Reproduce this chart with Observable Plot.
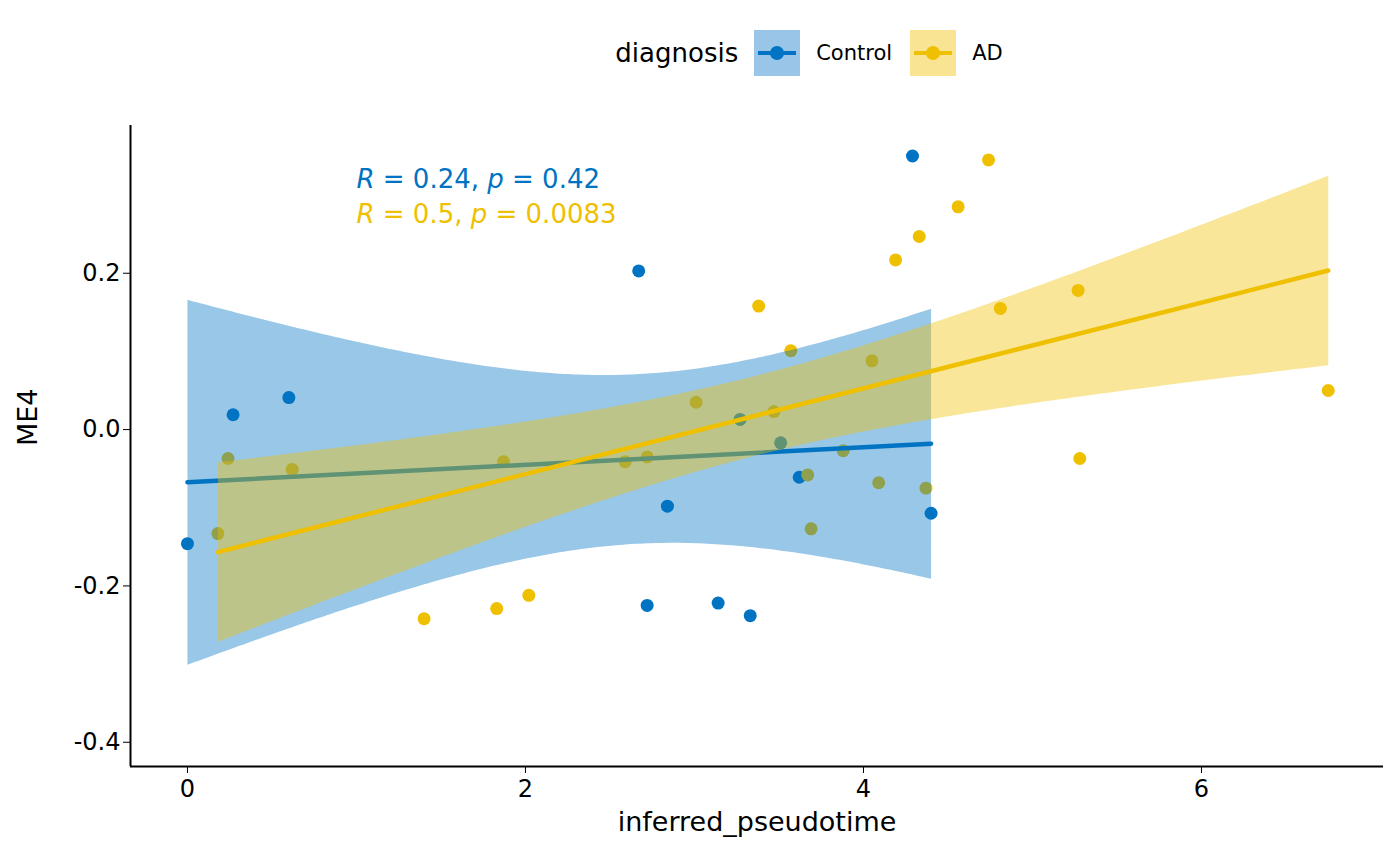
<!DOCTYPE html>
<html><head><meta charset="utf-8">
<script src="https://cdn.jsdelivr.net/npm/d3@7"></script>
<script src="https://cdn.jsdelivr.net/npm/@observablehq/plot@0.6"></script>
<style>
body{margin:0;background:#fff;font-family:"DejaVu Sans",sans-serif}
#wrap{position:relative;width:1400px;height:865px}
#legend{position:absolute;top:30px;left:110px;width:1400px;display:flex;justify-content:center;align-items:center;font-size:26px}
.key{display:inline-block;width:46px;height:46px;position:relative;margin:0 16px 0 16px}
.key .ln{position:absolute;left:4px;right:4px;top:21px;height:4px}
.key .dt{position:absolute;left:16px;top:16px;width:14px;height:14px;border-radius:50%}
.lab{font-size:21px;margin-right:2px}
</style></head><body>
<div id="wrap"><div id="legend">
<span>diagnosis</span>
<span class="key" style="background:#99C5E8"><span class="ln" style="background:#0073C2"></span><span class="dt" style="background:#0073C2"></span></span><span class="lab">Control</span>
<span class="key" style="background:#F8E493"><span class="ln" style="background:#EFC000"></span><span class="dt" style="background:#EFC000"></span></span><span class="lab">AD</span>
</div><div id="chart"></div></div>
<script>
const controlX=[0,2.67,4.29,2.84,2.72,3.14,3.33,3.27,3.51,3.62,4.40,0.27,0.60];
const controlY=[-0.146,0.203,0.350,-0.098,-0.225,-0.222,-0.238,0.013,-0.017,-0.061,-0.107,0.019,0.041];
const adX=[3.38,3.57,4.19,4.33,4.56,4.74,4.81,5.27,5.28,6.75,1.83,2.02,0.18,0.24,0.62,1.40,1.87,2.59,2.72,3.01,3.47,3.67,3.69,3.88,4.05,4.09,4.37];
const adY=[0.158,0.101,0.217,0.247,0.285,0.345,0.155,0.178,-0.037,0.050,-0.229,-0.212,-0.133,-0.037,-0.051,-0.242,-0.041,-0.041,-0.035,0.035,0.023,-0.058,-0.127,-0.027,0.088,-0.068,-0.075];
const groups=["Control","AD"];
const colors=["#0073C2","#EFC000"];
const labels=[{x:1,y:0.32,t:"R = 0.24, p = 0.42",g:"Control"},{x:1,y:0.275,t:"R = 0.5, p = 0.0083",g:"AD"}];
const data=[...controlX.map((x,i)=>({x,y:controlY[i],g:"Control"})),...adX.map((x,i)=>({x,y:adY[i],g:"AD"}))];
const xd=[-0.337,7.077], yd=[-0.431,0.389];
const plot=Plot.plot({
  width:1400,height:865,marginLeft:130,marginRight:17,marginTop:125,marginBottom:99,
  style:{fontFamily:"DejaVu Sans",color:"#000"},
  x:{domain:xd},
  y:{domain:yd},
  color:{domain:groups,range:colors},
  marks:[
    Plot.axisX({ticks:[0,2,4,6],label:null,tickSize:7,fontSize:24,fill:"#000",tickPadding:6}),
    Plot.axisY({ticks:[-0.4,-0.2,0,0.2],tickFormat:d=>d===0?"0.0":d3.format(".1f")(d).replace("−","-"),label:null,tickSize:7,fontSize:24,fill:"#000"}),
    Plot.dot(data,{x:"x",y:"y",fill:"g",r:6.5}),
    Plot.linearRegressionY(data,{x:"x",y:"y",stroke:"g",fill:"g",ci:0.95,strokeWidth:4.5,fillOpacity:0.4,clip:true}),
    Plot.ruleX([xd[0]],{stroke:"#000",strokeWidth:2}),
    Plot.ruleY([yd[0]],{stroke:"#000",strokeWidth:2}),
    Plot.text(labels,{x:"x",y:"y",text:"t",fill:d=>d.g,textAnchor:"start",fontSize:26,className:"rlab"}),
    Plot.text(["inferred_pseudotime"],{frameAnchor:"bottom",dy:64,fontSize:27}),
    Plot.text(["ME4"],{frameAnchor:"left",dx:-102,rotate:-90,fontSize:27})
  ]
});
document.getElementById("chart").appendChild(plot);
d3.select(plot).selectAll(".rlab text").each(function(){
  const t=this.textContent; const m=t.match(/R = (.*), p = (.*)/);
  this.innerHTML=`<tspan font-style="italic">R</tspan> = ${m[1]}, <tspan font-style="italic">p</tspan> = ${m[2]}`;
});
</script></body></html>
